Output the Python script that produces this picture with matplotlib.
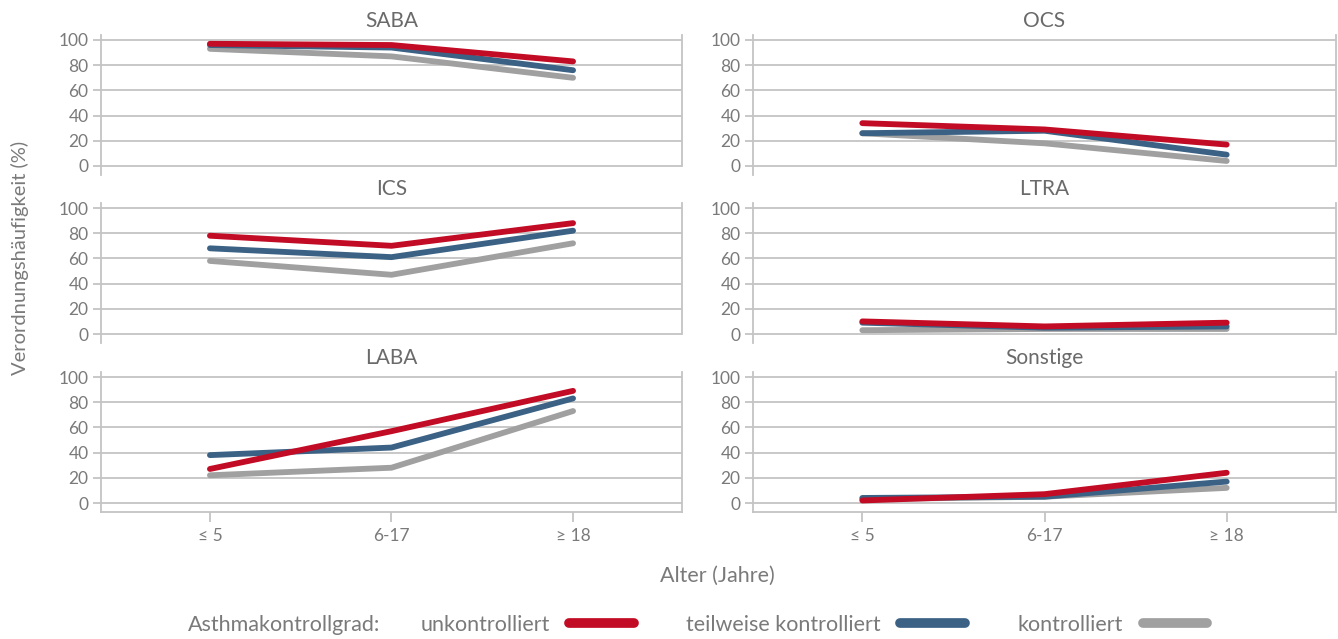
import numpy as np
import matplotlib
matplotlib.use('Agg')
import matplotlib.pyplot as plt
from matplotlib.lines import Line2D

plt.rcParams['font.family'] = ['Lato', 'DejaVu Sans']

# Data
ages = ['≤ 5', '6-17', '≥ 18']
panels = ['SABA', 'OCS', 'ICS', 'LTRA', 'LABA', 'Sonstige']
groups = ['unkontrolliert', 'teilweise kontrolliert', 'kontrolliert']
colors = ['#c20b24', '#3b6285', '#a0a0a0']

unkontrolliert = {
    'SABA': [97, 96, 83], 'OCS': [34, 29, 17], 'ICS': [78, 70, 88],
    'LTRA': [10, 6, 9], 'LABA': [27, 57, 89], 'Sonstige': [2, 7, 24],
}
teilweise = {
    'SABA': [96, 94, 76], 'OCS': [26, 28, 9], 'ICS': [68, 61, 82],
    'LTRA': [9, 5, 6], 'LABA': [38, 44, 83], 'Sonstige': [4, 5, 17],
}
kontrolliert = {
    'SABA': [93, 87, 70], 'OCS': [26, 18, 4], 'ICS': [58, 47, 72],
    'LTRA': [3, 4, 4], 'LABA': [22, 28, 73], 'Sonstige': [3, 5, 12],
}
series = [unkontrolliert, teilweise, kontrolliert]

W, H = 1338, 639
fig = plt.figure(figsize=(W / 100, H / 100), dpi=100)

grid_c = '#c4c4c4'
text_c = '#7a7a7a'
ymin, ymax = -7, 104
col_x = [(101, 682), (753, 1336)]
row_top100 = [40, 208, 377]
px_per_unit = 1.26

x = np.arange(len(ages))
for i, name in enumerate(panels):
    r, c = divmod(i, 2)
    x0, x1 = col_x[c]
    top_px = row_top100[r] - (ymax - 100) * px_per_unit
    h_px = (ymax - ymin) * px_per_unit
    ax = fig.add_axes([x0 / W, 1 - (top_px + h_px) / H, (x1 - x0) / W, h_px / H])

    # draw back to front: kontrolliert, teilweise, unkontrolliert
    for k in [2, 1, 0]:
        ax.plot(x, series[k][name], color=colors[k], lw=4.2,
                solid_capstyle='round', solid_joinstyle='round', zorder=3 + (2 - k))

    ax.set_xlim(-0.6, 2.6)
    ax.set_ylim(ymin, ymax)
    ax.set_yticks([0, 20, 40, 60, 80, 100])
    ax.yaxis.grid(True, color=grid_c, lw=1.3)
    ax.set_axisbelow(True)
    ax.set_title(name, fontsize=15, color='#6a6a6a', pad=6)

    ax.spines['top'].set_visible(False)
    for s in ['left', 'right', 'bottom']:
        ax.spines[s].set_color(grid_c)
        ax.spines[s].set_linewidth(1.3)
    ax.tick_params(axis='y', colors=grid_c, labelcolor=text_c, labelsize=12.5,
                   length=6, width=1.3, pad=3)

    if r < 2:
        ax.spines['bottom'].set_visible(False)
        ax.spines['right'].set_bounds(0, ymax)
        ax.set_xticks(x)
        ax.tick_params(axis='x', length=0, labelbottom=False)
    else:
        ax.set_xticks(x)
        ax.set_xticklabels(ages)
        ax.tick_params(axis='x', colors=grid_c, labelcolor=text_c, labelsize=12.5,
                       length=7, width=1.3, pad=5)

fig.text(20 / W, 1 - 258 / H, 'Verordnungshäufigkeit (%)', rotation=90,
         ha='center', va='center', fontsize=14.5, color=text_c)
fig.text(717 / W, 1 - 576 / H, 'Alter (Jahre)', ha='center', va='center',
         fontsize=15.5, color=text_c)

# legend row
fig.text(188 / W, 1 - 625 / H, 'Asthmakontrollgrad:', ha='left', va='center',
         fontsize=15.5, color=text_c)
handles = [Line2D([], [], color=colors[k], lw=7, solid_capstyle='round') for k in range(3)]
fig.legend(handles, groups, loc='center left', bbox_to_anchor=(401 / W, 1 - 625 / H),
           ncol=3, frameon=False, markerfirst=False, handlelength=3.0,
           handletextpad=0.9, columnspacing=2.45, fontsize=15.5, labelcolor=text_c)

fig.savefig('out.png', dpi=100)
